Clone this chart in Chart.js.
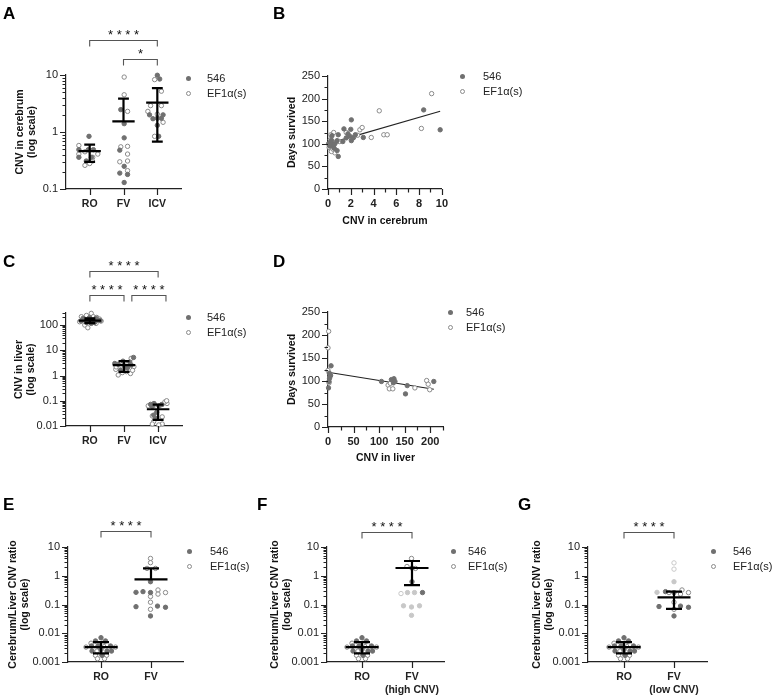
<!DOCTYPE html>
<html>
<head>
<meta charset="utf-8">
<script src="https://cdn.jsdelivr.net/npm/chart.js@4.4.1/dist/chart.umd.min.js"></script>
<style>
  html, body { margin: 0; padding: 0; background: #fff; }
  #fig { position: relative; width: 772px; height: 696px; overflow: hidden; font-family: "Liberation Sans", Arial, sans-serif; }
  .box { position: absolute; }
  .letter { position: absolute; font-weight: bold; font-size: 17px; line-height: 17px; color: #000; }
  .legtxt { position: absolute; font-size: 11px; line-height: 14px; color: #222; white-space: nowrap; }
  .legdot { position: absolute; border-radius: 50%; box-sizing: border-box; }
</style>
</head>
<body>
<div id="fig"></div>
<script>
// ---------- data ----------
const seriesNames = ['546', 'EF1α(s)'];

// A: CNV in cerebrum, points are [jitter, value]
const aCats = ['RO', 'FV', 'ICV'];
const aRo546 = [[-0.02,0.84],[-0.32,0.49],[-0.04,0.49],[0.11,0.49],[-0.32,0.36],[-0.1,0.31],[0.05,0.36]];
const aRoEf1 = [[-0.32,0.58],[-0.32,0.41],[-0.14,0.45],[0.24,0.41],[0.09,0.36],[0.08,0.31],[-0.14,0.26],[0.0,0.28]];
const aFv546 = [[-0.08,2.47],[0.02,1.4],[0.02,0.79],[-0.11,0.48],[0.02,0.25],[-0.11,0.19],[0.12,0.18],[0.02,0.13]];
const aFvEf1 = [[0.02,9.2],[0.02,4.5],[0.12,2.3],[-0.08,0.55],[0.12,0.56],[0.12,0.41],[0.12,0.31],[-0.11,0.3],[0.12,0.21]];
const aIcv546 = [[0,9.9],[0.07,8.5],[-0.23,2.0],[0.17,2.0],[-0.13,1.71],[0.12,1.74],[0,1.74],[0,1.31],[0.04,0.84]];
const aIcvEf1 = [[-0.08,8.3],[0.12,5.2],[-0.2,2.9],[0.12,2.9],[-0.28,2.3],[0,2.06],[0.17,1.48],[-0.08,0.84]];
const aMean = [0.46, 1.54, 3.27];
const aSdLow = [0.3, null, 0.68];
const aSdHigh = [0.6, 3.85, 5.9];

// B: days survived vs CNV in cerebrum, [cnv, days]
const b546 = [[9.85,131],[8.4,175],[3.1,114],[2.05,153],[2.0,132],[1.4,133],[1.75,122],[2.4,120],[1.6,113],[2.05,107],
  [1.3,105],[0.9,120],[0.8,107],[0.35,118],[0.8,85],[0.9,72],[0.35,98],[0.05,100],[0.2,103],[0.45,95],[0.55,90],
  [0.3,108],[0.6,100],[0.15,95],[1.9,117],[2.2,113]];
const bEf1 = [[9.1,211],[4.5,173],[8.2,134],[4.9,120],[5.2,120],[3.8,114],[2.8,131],[3.0,136],[2.25,114],[0.5,125],
  [0.6,80],[0.3,83],[0.2,109],[0.7,104],[0.1,92],[0.45,88],[1.0,105],[0.25,120],[1.6,125],[2.6,119]];
const bFit = [[0.1,101],[9.85,172]];

// C: CNV in liver
const cCats = ['RO', 'FV', 'ICV'];
const cRo546 = [[-0.2,184],[-0.06,158],[0.09,158],[0.18,184],[-0.1,128],[0.04,116],[0.14,128],[0.23,158],[-0.25,144],[-0.01,195],[0.3,150],[-0.15,165]];
const cRoEf1 = [[-0.25,214],[0.04,290],[0.28,173],[-0.15,100],[-0.06,78],[0.18,116],[-0.3,135],[0.1,214],[0.33,144],[-0.1,240],[0.2,200]];
const cFv546 = [[-0.27,3.0],[-0.17,2.8],[-0.03,3.7],[0.17,3.4],[0.28,5.2],[0.21,2.6],[0.02,2.24],[-0.1,1.65],[0.1,2.0]];
const cFvEf1 = [[-0.24,1.75],[0.12,3.0],[0.21,4.8],[0.29,2.24],[0.07,1.42],[-0.17,1.05],[0.19,1.2],[-0.23,2.2],[0.25,1.6],[-0.05,1.3]];
const cIcv546 = [[-0.22,0.072],[-0.12,0.078],[0.02,0.063],[-0.17,0.06],[-0.13,0.027],[-0.08,0.02],[-0.04,0.035],[0.1,0.07]];
const cIcvEf1 = [[-0.29,0.063],[0.12,0.072],[0.26,0.078],[0.2,0.09],[-0.1,0.068],[-0.17,0.025],[0.12,0.023],[-0.13,0.015],[-0.17,0.012],[0.12,0.012],[0.02,0.011],[0.25,0.1]];
const cMean = [150, 2.6, 0.046];
const cSdLow = [120, 1.4, 0.0176];
const cSdHigh = [185, 3.7, 0.07];

// D: days survived vs CNV in liver
const d546 = [[6,133],[2.6,117],[2,99],[5,112],[1,85],[3,106],[104.6,99],[124,103],[129,105],[128,96],[131,99],[155,90],[151.6,72],[207,99]];
const dEf1 = [[1.3,208],[0,172],[0,123],[4,110],[2,96],[117.6,91],[120,83],[126.8,83],[122,95],[170,85],[193,101],[196,93],[199,81]];
const dFit = [[0,119],[207,82]];

// E-G: cerebrum/liver CNV ratio
const roRatio546 = [[0,0.007],[-0.11,0.0054],[0.09,0.0054],[-0.19,0.0036],[-0.06,0.0036],[0.19,0.0036],[-0.18,0.0024],[0.12,0.0024],[0.21,0.0024],[0.02,0.0017],[0,0.0027]];
const roRatioEf1 = [[-0.3,0.0033],[0.05,0.0036],[0.29,0.0033],[-0.08,0.0024],[-0.11,0.0017],[0.11,0.0017],[-0.07,0.0013],[0.07,0.0013],[0.02,0.0045],[-0.2,0.0045]];
const roRatioMean = 0.0033, roRatioLow = 0.002, roRatioHigh = 0.0049;

const eCats = ['RO', 'FV'];
const eFv546 = [[-0.01,0.62],[-0.3,0.265],[-0.16,0.28],[-0.01,0.26],[-0.3,0.084],[0.13,0.088],[0.29,0.08],[-0.01,0.04]];
const eFvEf1 = [[-0.01,4.0],[-0.01,2.85],[-0.08,1.8],[0.09,1.8],[0.14,0.32],[0.14,0.23],[0.29,0.26],[-0.01,0.19],[-0.01,0.12],[-0.01,0.068]];
const eMean = [roRatioMean, 0.75];
const eSdLow = [roRatioLow, null];
const eSdHigh = [roRatioHigh, 1.8];

const fCats = ['RO', ['FV', '(high CNV)']];
const fFv546 = [[0,1.85],[0,0.62],[0.21,0.26]];
const fFvEf1 = [[-0.01,4.0],[-0.1,2.1],[0.07,1.8]];
const fFvPale546 = [[-0.09,0.26],[0.05,0.26],[-0.17,0.09],[-0.01,0.082],[0.15,0.09],[-0.01,0.042]];
const fFvPaleEf1 = [[-0.22,0.24]];
const fMean = [roRatioMean, 1.86];
const fSdLow = [roRatioLow, 0.47];
const fSdHigh = [roRatioHigh, 3.26];

const gCats = ['RO', ['FV', '(low CNV)']];
const gFv546 = [[-0.17,0.28],[0,0.26],[-0.3,0.085],[0.13,0.088],[0.29,0.08],[0,0.04]];
const gFvEf1 = [[0.16,0.32],[0.13,0.23],[0.29,0.26],[0,0.12],[0,0.068],[-0.1,0.26]];
const gFvPale546 = [[0,0.62],[-0.34,0.265]];
const gFvPaleEf1 = [[0,2.8],[0,1.7]];
const gMean = [roRatioMean, 0.178];
const gSdLow = [roRatioLow, 0.07];
const gSdHigh = [roRatioHigh, 0.28];

// ---------- styling ----------
const DARK = '#707070', EDGE = '#8a8a8a', PALE = '#c8c8c8', INK = '#222';
const FONT = '"Liberation Sans", Arial, sans-serif';
Chart.defaults.font.family = FONT;
Chart.defaults.color = INK;
Chart.defaults.animation = false;

function isPow10(v) { const e = Math.log10(v); return Math.abs(e - Math.round(e)) < 1e-6; }
function hasLabel(t) { return Array.isArray(t.label) ? t.label.length > 0 : (t.label !== '' && t.label != null); }

// draws GraphPad-style ticks, mean/SD bars and significance brackets
const marksPlugin = {
  id: 'marks',
  afterDatasetsDraw(chart, args, opts) {
    const {ctx, chartArea: ca, scales: {x, y}} = chart;
    ctx.save();
    ctx.strokeStyle = INK;
    ctx.lineWidth = 1.2;
    ctx.beginPath();
    x.ticks.forEach(t => {
      const p = Math.round(x.getPixelForValue(t.value)) + 0.5;
      ctx.moveTo(p, ca.bottom); ctx.lineTo(p, ca.bottom + (hasLabel(t) ? 6 : 3.5));
    });
    y.ticks.forEach(t => {
      const p = Math.round(y.getPixelForValue(t.value)) + 0.5;
      ctx.moveTo(ca.left, p); ctx.lineTo(ca.left - (hasLabel(t) ? 6 : 3.5), p);
    });
    ctx.stroke();

    const mean = opts.mean || [], lo = opts.low || [], hi = opts.high || [];
    ctx.strokeStyle = '#000';
    ctx.lineWidth = 2.2;
    mean.forEach((m, i) => {
      const c = i + 1;
      const px = x.getPixelForValue(c);
      const hw = x.getPixelForValue(c + 0.33) - px;
      const cw = x.getPixelForValue(c + 0.16) - px;
      const ym = y.getPixelForValue(m);
      const yt = hi[i] != null ? y.getPixelForValue(hi[i]) : ym;
      const yb = lo[i] != null ? y.getPixelForValue(lo[i]) : ym;
      ctx.beginPath();
      ctx.moveTo(px - hw, ym); ctx.lineTo(px + hw, ym);
      ctx.moveTo(px, yt); ctx.lineTo(px, yb);
      if (hi[i] != null) { ctx.moveTo(px - cw, yt); ctx.lineTo(px + cw, yt); }
      if (lo[i] != null) { ctx.moveTo(px - cw, yb); ctx.lineTo(px + cw, yb); }
      ctx.stroke();
    });

    (opts.brackets || []).forEach(b => {
      const x1 = x.getPixelForValue(b.from), x2 = x.getPixelForValue(b.to);
      const y0 = Math.round(ca.top + b.dy) + 0.5;
      ctx.strokeStyle = '#555';
      ctx.lineWidth = 1.1;
      ctx.beginPath();
      ctx.moveTo(x1, y0 + 6); ctx.lineTo(x1, y0); ctx.lineTo(x2, y0); ctx.lineTo(x2, y0 + 6);
      ctx.stroke();
      ctx.fillStyle = '#111';
      ctx.font = '13px ' + FONT;
      ctx.textAlign = 'center';
      ctx.textBaseline = 'alphabetic';
      ctx.fillText(b.text, (x1 + x2) / 2, y0 - 2);
    });
    ctx.restore();
  }
};
Chart.register(marksPlugin);

const fig = document.getElementById('fig');

function jitter(arr, idx) { return arr.map(p => ({x: idx + p[0], y: p[1]})); }
function pairs(arr) { return arr.map(p => ({x: p[0], y: p[1]})); }
function dotSet(data, fill, edge) {
  return {data, backgroundColor: fill, borderColor: edge, borderWidth: 1, pointRadius: 2.2, pointHoverRadius: 2.2, clip: false};
}
function fitSet(data) {
  return {data: pairs(data), showLine: true, pointRadius: 0, borderColor: INK, borderWidth: 1.2, clip: false};
}

const axisBorder = {display: true, color: INK, width: 1.2};
const tickGrid = {display: true, drawOnChartArea: false, drawTicks: true, tickLength: 6, color: 'rgba(0,0,0,0)'};
const titleFont = {size: 10.5, weight: 'bold'};

function logY(min, max, title, pad) {
  return {
    type: 'logarithmic', position: 'left', min, max,
    border: axisBorder, grid: tickGrid,
    afterBuildTicks: s => {
      s.ticks = s.ticks.filter(t => {
        const m = t.value / Math.pow(10, Math.floor(Math.log10(t.value) + 1e-9));
        return Math.abs(m - Math.round(m)) < 1e-6;
      });
    },
    ticks: {autoSkip: false, padding: 2, font: {size: 11}, color: INK,
      callback: v => isPow10(v) ? String(+v.toPrecision(1)) : ''},
    title: {display: true, text: title, font: titleFont, color: '#111', padding: {top: pad, bottom: 0}}
  };
}
function catX(cats, min, max) {
  return {
    type: 'linear', position: 'bottom', min, max,
    border: axisBorder, grid: tickGrid,
    afterBuildTicks: s => { s.ticks = cats.map((c, i) => ({value: i + 1})); },
    ticks: {autoSkip: false, maxRotation: 0, minRotation: 0, padding: 3, font: {size: 10.5, weight: 'bold'}, color: INK,
      callback: v => cats[Math.round(v) - 1]}
  };
}
function linAxis(pos, max, step, every, title, pad, bold) {
  return {
    type: 'linear', position: pos, min: 0, max,
    border: axisBorder, grid: tickGrid,
    ticks: {stepSize: step, autoSkip: false, maxRotation: 0, minRotation: 0, padding: 2, color: INK,
      font: bold ? {size: 11, weight: 'bold'} : {size: 11},
      callback: v => (Math.abs(v % every) < 1e-9 ? String(v) : '')},
    title: {display: true, text: title, font: titleFont, color: '#111',
      padding: pos === 'left' ? {top: pad, bottom: 0} : {top: 0, bottom: pad}}
  };
}

function panel(box, area, datasets, xs, ys, marks) {
  const wrap = document.createElement('div');
  wrap.className = 'box';
  wrap.style.left = box.x + 'px'; wrap.style.top = box.y + 'px';
  const cv = document.createElement('canvas');
  cv.width = box.w; cv.height = box.h;
  cv.style.width = box.w + 'px'; cv.style.height = box.h + 'px';
  wrap.appendChild(cv);
  fig.appendChild(wrap);
  xs.afterFit = s => { s.height = box.y + box.h - area.b; };
  ys.afterFit = s => { s.width = area.l - box.x; };
  new Chart(cv, {
    type: 'scatter',
    data: {datasets},
    options: {
      responsive: false, animation: false, events: [],
      layout: {padding: {left: 0, top: area.t - box.y, right: box.x + box.w - area.r, bottom: 0}},
      plugins: {legend: {display: false}, tooltip: {enabled: false}, marks},
      scales: {x: xs, y: ys}
    }
  });
}

function legend(dotX, rowY, textX) {
  seriesNames.forEach((name, i) => {
    const cy = rowY + i * 15;
    const d = document.createElement('div');
    d.className = 'legdot';
    d.style.left = (dotX - 2.5) + 'px'; d.style.top = (cy - 2.5) + 'px';
    d.style.width = '5px'; d.style.height = '5px';
    if (i === 0) d.style.background = DARK;
    else { d.style.background = '#fff'; d.style.border = '1px solid ' + EDGE; }
    fig.appendChild(d);
    const t = document.createElement('div');
    t.className = 'legtxt';
    t.style.left = textX + 'px'; t.style.top = (cy - 7) + 'px';
    t.textContent = name;
    fig.appendChild(t);
  });
}
function letter(txt, x, y) {
  const l = document.createElement('div');
  l.className = 'letter';
  l.style.left = x + 'px'; l.style.top = y + 'px';
  l.textContent = txt;
  fig.appendChild(l);
}

// ---------- A ----------
panel({x: 0, y: 20, w: 200, h: 200}, {l: 66, r: 181, t: 75, b: 189},
  [dotSet([...jitter(aRo546, 1), ...jitter(aFv546, 2), ...jitter(aIcv546, 3)], DARK, DARK),
   dotSet([...jitter(aRoEf1, 1), ...jitter(aFvEf1, 2), ...jitter(aIcvEf1, 3)], '#fff', EDGE)],
  catX(aCats, 0.3, 3.7),
  logY(0.1, 10, ['CNV in cerebrum', '(log scale)'], 13.7),
  {mean: aMean, low: aSdLow, high: aSdHigh,
   brackets: [{from: 1, to: 3, dy: -35, text: '* * * *'}, {from: 2, to: 3, dy: -16, text: '*'}]});
legend(188, 78, 207);
letter('A', 3, 5);

// ---------- B ----------
panel({x: 280, y: 20, w: 170, h: 215}, {l: 328, r: 442, t: 76, b: 189},
  [dotSet(pairs(b546), DARK, DARK), dotSet(pairs(bEf1), '#fff', EDGE), fitSet(bFit)],
  linAxis('bottom', 10, 1, 2, 'CNV in cerebrum', 7.7, true),
  linAxis('left', 250, 25, 50, 'Days survived', 5.7, false),
  {});
legend(462, 76, 483);
letter('B', 273, 5);

// ---------- C ----------
panel({x: 0, y: 240, w: 200, h: 215}, {l: 66, r: 182, t: 313, b: 426},
  [dotSet([...jitter(cRo546, 1), ...jitter(cFv546, 2), ...jitter(cIcv546, 3)], DARK, DARK),
   dotSet([...jitter(cRoEf1, 1), ...jitter(cFvEf1, 2), ...jitter(cIcvEf1, 3)], '#fff', EDGE)],
  catX(cCats, 0.3, 3.7),
  logY(0.01, 300, ['CNV in liver', '(log scale)'], 12.7),
  {mean: cMean, low: cSdLow, high: cSdHigh,
   brackets: [{from: 1, to: 3, dy: -42, text: '* * * *'},
              {from: 1, to: 2, dy: -18, text: '* * * *'},
              {from: 2.23, to: 3.23, dy: -18, text: '* * * *'}]});
legend(188, 317, 207);
letter('C', 3, 253);

// ---------- D ----------
panel({x: 280, y: 290, w: 170, h: 180}, {l: 328, r: 443, t: 312, b: 427},
  [dotSet(pairs(d546), DARK, DARK), dotSet(pairs(dEf1), '#fff', EDGE), fitSet(dFit)],
  linAxis('bottom', 225, 25, 50, 'CNV in liver', 5.7, true),
  linAxis('left', 250, 25, 50, 'Days survived', 5.7, false),
  {});
legend(450, 312, 466);
letter('D', 273, 253);

// ---------- E ----------
const ratioTitle = ['Cerebrum/Liver CNV ratio', '(log scale)'];
panel({x: 0, y: 480, w: 200, h: 216}, {l: 68, r: 183, t: 547, b: 662},
  [dotSet([...jitter(roRatio546, 1), ...jitter(eFv546, 2)], DARK, DARK),
   dotSet([...jitter(roRatioEf1, 1), ...jitter(eFvEf1, 2)], '#fff', EDGE)],
  catX(eCats, 0.34, 2.64),
  logY(0.001, 10, ratioTitle, 6.7),
  {mean: eMean, low: eSdLow, high: eSdHigh, brackets: [{from: 1, to: 2, dy: -16, text: '* * * *'}]});
legend(189, 551, 210);
letter('E', 3, 496);

// ---------- F ----------
panel({x: 258, y: 480, w: 200, h: 216}, {l: 327, r: 444, t: 547, b: 662},
  [dotSet([...jitter(fFvPale546, 2)], PALE, PALE),
   dotSet([...jitter(fFvPaleEf1, 2)], '#fff', PALE),
   dotSet([...jitter(roRatio546, 1), ...jitter(fFv546, 2)], DARK, DARK),
   dotSet([...jitter(roRatioEf1, 1), ...jitter(fFvEf1, 2)], '#fff', EDGE)],
  catX(fCats, 0.3, 2.64),
  logY(0.001, 10, ratioTitle, 10.7),
  {mean: fMean, low: fSdLow, high: fSdHigh, brackets: [{from: 1, to: 2, dy: -15, text: '* * * *'}]});
legend(453, 551, 468);
letter('F', 257, 496);

// ---------- G ----------
panel({x: 518, y: 480, w: 210, h: 216}, {l: 588, r: 707, t: 547, b: 662},
  [dotSet([...jitter(gFvPale546, 2)], PALE, PALE),
   dotSet([...jitter(gFvPaleEf1, 2)], '#fff', PALE),
   dotSet([...jitter(roRatio546, 1), ...jitter(gFv546, 2)], DARK, DARK),
   dotSet([...jitter(roRatioEf1, 1), ...jitter(gFvEf1, 2)], '#fff', EDGE)],
  catX(gCats, 0.28, 2.66),
  logY(0.001, 10, ratioTitle, 12.7),
  {mean: gMean, low: gSdLow, high: gSdHigh, brackets: [{from: 1, to: 2, dy: -15, text: '* * * *'}]});
legend(713, 551, 733);
letter('G', 518, 496);
</script>
</body>
</html>
